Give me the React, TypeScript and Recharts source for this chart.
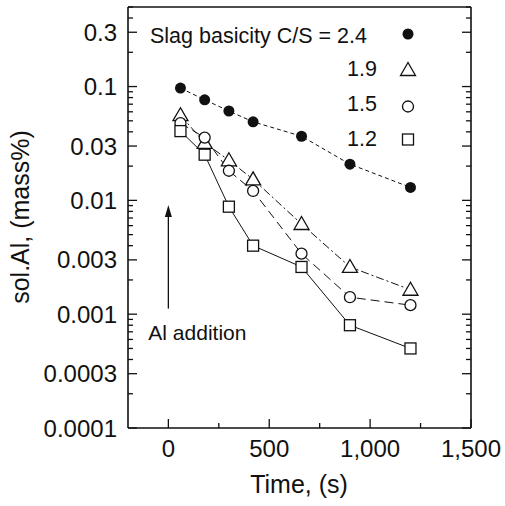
import React from "react";
import {
  Customized,
  Line,
  LineChart,
  ReferenceDot,
  ReferenceLine,
  XAxis,
  YAxis,
} from "recharts";

// time after Al addition, s
const times = [60, 180, 300, 420, 660, 900, 1200];

// sol.Al (mass%) per slag basicity
const cs24 = [0.097, 0.0765, 0.061, 0.049, 0.0366, 0.0208, 0.013];
const cs19 = [0.056, 0.032, 0.0225, 0.0153, 0.0062, 0.0026, 0.00164];
const cs15 = [0.0477, 0.0356, 0.0182, 0.0121, 0.0034, 0.00141, 0.0012];
const cs12 = [0.0406, 0.0252, 0.0088, 0.004, 0.0026, 0.0008, 0.0005];

const xTicks = [0, 250, 500, 750, 1000, 1250, 1500];
const xLabelled = [0, 500, 1000, 1500];

const yTicks = [
  0.0001, 0.0002, 0.0003, 0.0004, 0.0005, 0.0006, 0.0007, 0.0008, 0.0009,
  0.001, 0.002, 0.003, 0.004, 0.005, 0.006, 0.007, 0.008, 0.009,
  0.01, 0.02, 0.03, 0.04, 0.05, 0.06, 0.07, 0.08, 0.09,
  0.1, 0.2, 0.3, 0.4, 0.5,
];
const yLabelled = [0.0001, 0.0003, 0.001, 0.003, 0.01, 0.03, 0.1, 0.3];

const data = times.map((t, i) => ({
  t,
  cs24: cs24[i],
  cs19: cs19[i],
  cs15: cs15[i],
  cs12: cs12[i],
}));

const FONT = "'Liberation Sans', Arial, Helvetica, sans-serif";
const INK = "#111";

function isLabelled(list: number[], v: number) {
  return list.some((l) => Math.abs(l - v) <= Math.abs(l) * 1e-6);
}

function XTick({ x, y, payload }: any) {
  const major = isLabelled(xLabelled, payload.value);
  return (
    <g>
      <line x1={x} x2={x} y1={y} y2={y - (major ? 9 : 5)} stroke={INK} strokeWidth={1.3} />
      {major ? (
        <text x={x} y={y + 29} textAnchor="middle" fontSize={24} fontFamily={FONT} fill={INK}>
          {payload.value.toLocaleString("en-US")}
        </text>
      ) : null}
    </g>
  );
}

function YTickLeft({ x, y, payload }: any) {
  const major = isLabelled(yLabelled, payload.value);
  return (
    <g>
      <line x1={x} x2={x + (major ? 9 : 5)} y1={y} y2={y} stroke={INK} strokeWidth={1.3} />
      {major ? (
        <text x={x - 11} y={y + 8.5} textAnchor="end" fontSize={24} fontFamily={FONT} fill={INK}>
          {String(payload.value)}
        </text>
      ) : null}
    </g>
  );
}

function YTickRight({ x, y, payload }: any) {
  const major = isLabelled(yLabelled, payload.value);
  return <line x1={x} x2={x - (major ? 9 : 5)} y1={y} y2={y} stroke={INK} strokeWidth={1.3} />;
}

type Shape = "filled" | "triangle" | "circle" | "square";

function Marker({ cx, cy, shape }: { cx: number; cy: number; shape: Shape }) {
  const sw = 1.3;
  if (shape === "filled") return <circle cx={cx} cy={cy} r={5.5} fill={INK} />;
  if (shape === "circle")
    return <circle cx={cx} cy={cy} r={5.5} fill="#fff" stroke={INK} strokeWidth={sw} />;
  if (shape === "square")
    return <rect x={cx - 5.5} y={cy - 5.5} width={11} height={11} fill="#fff" stroke={INK} strokeWidth={sw} />;
  return (
    <polygon
      points={`${cx},${cy - 7.5} ${cx - 7.5},${cy + 5.5} ${cx + 7.5},${cy + 5.5}`}
      fill="#fff"
      stroke={INK}
      strokeWidth={sw}
    />
  );
}

const dotFor = (shape: Shape) => (props: any) => {
  const { cx, cy, index } = props;
  return (
    <g key={`${shape}-${index}`}>
      <Marker cx={cx} cy={cy} shape={shape} />
    </g>
  );
};

function Overlay() {
  const rows: { label: string; shape: Shape; y: number; my: number }[] = [
    { label: "1.9", shape: "triangle", y: 76, my: 70 },
    { label: "1.5", shape: "circle", y: 111, my: 106.5 },
    { label: "1.2", shape: "square", y: 146, my: 139.5 },
  ];
  return (
    <g fontFamily={FONT} fill={INK}>
      <text x={150} y={43} fontSize={21.5}>
        Slag basicity C/S = 2.4
      </text>
      <Marker cx={408} cy={34} shape="filled" />
      {rows.map((r) => (
        <g key={r.label}>
          <text x={377} y={r.y} fontSize={21.5} textAnchor="end">
            {r.label}
          </text>
          <Marker cx={408} cy={r.my} shape={r.shape} />
        </g>
      ))}
      <text
        x={29}
        y={217}
        fontSize={25}
        textAnchor="middle"
        transform="rotate(-90, 29, 217)"
      >
        sol.Al, (mass%)
      </text>
      <text x={299} y={493} fontSize={25} textAnchor="middle">
        Time, (s)
      </text>
    </g>
  );
}

export default function App() {
  return (
    <div style={{ position: "absolute", left: 0, top: 0, background: "#fff" }}>
      <LineChart
        width={505}
        height={506}
        data={data}
        margin={{ top: 7, right: 33, bottom: 0, left: 0 }}
      >
        <XAxis
          dataKey="t"
          type="number"
          domain={[-200, 1500]}
          ticks={xTicks}
          allowDataOverflow
          height={78}
          tickSize={0}
          tickMargin={0}
          tick={<XTick />}
          axisLine={{ stroke: INK, strokeWidth: 1.6 }}
          tickLine={false}
          interval={0}
        />
        <YAxis
          type="number"
          scale="log"
          domain={[0.0001, 0.5]}
          ticks={yTicks}
          allowDataOverflow
          width={128}
          tickSize={0}
          tickMargin={0}
          tick={<YTickLeft />}
          axisLine={{ stroke: INK, strokeWidth: 1.6 }}
          tickLine={false}
          interval={0}
        />
        <YAxis
          yAxisId="right"
          orientation="right"
          type="number"
          scale="log"
          domain={[0.0001, 0.5]}
          ticks={yTicks}
          allowDataOverflow
          width={1}
          tickSize={0}
          tickMargin={0}
          tick={<YTickRight />}
          axisLine={{ stroke: INK, strokeWidth: 1.6 }}
          tickLine={false}
          interval={0}
        />
        <ReferenceLine y={0.5} stroke={INK} strokeWidth={1.6} />

        {/* Al addition arrow */}
        <ReferenceLine
          segment={[
            { x: 0, y: 0.00112 },
            { x: 0, y: 0.0082 },
          ]}
          stroke={INK}
          strokeWidth={1.3}
        />
        <ReferenceDot
          x={0}
          y={0.0091}
          r={1}
          shape={(p: any) => (
            <polygon
              points={`${p.cx},${p.cy} ${p.cx - 3.5},${p.cy + 12} ${p.cx + 3.5},${p.cy + 12}`}
              fill={INK}
            />
          )}
        />
        <ReferenceDot
          x={0}
          y={0.00069}
          r={1}
          shape={(p: any) => (
            <text x={p.cx - 20} y={p.cy + 7} fontSize={21} fontFamily={FONT} fill={INK}>
              Al addition
            </text>
          )}
        />

        <Line
          dataKey="cs24"
          type="linear"
          stroke={INK}
          strokeWidth={1}
          strokeDasharray="4 3"
          dot={dotFor("filled")}
          isAnimationActive={false}
        />
        <Line
          dataKey="cs19"
          type="linear"
          stroke={INK}
          strokeWidth={1}
          strokeDasharray="8 3 2 3"
          dot={dotFor("triangle")}
          isAnimationActive={false}
        />
        <Line
          dataKey="cs15"
          type="linear"
          stroke={INK}
          strokeWidth={1}
          strokeDasharray="9 5"
          dot={dotFor("circle")}
          isAnimationActive={false}
        />
        <Line
          dataKey="cs12"
          type="linear"
          stroke={INK}
          strokeWidth={1}
          dot={dotFor("square")}
          isAnimationActive={false}
        />
        <Customized component={<Overlay />} />
      </LineChart>
    </div>
  );
}
